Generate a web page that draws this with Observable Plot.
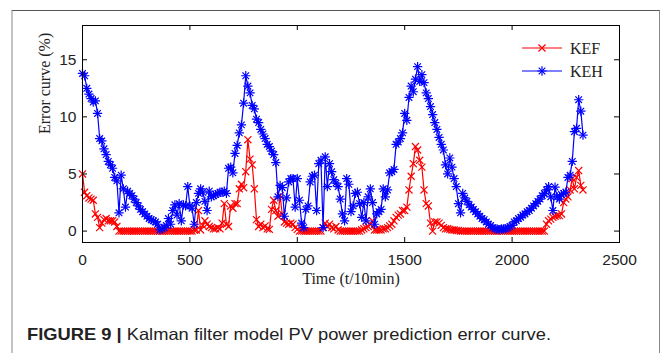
<!DOCTYPE html>
<html><head><meta charset="utf-8">
<script src="https://cdn.jsdelivr.net/npm/d3@7"></script>
<script src="https://cdn.jsdelivr.net/npm/@observablehq/plot@0.6"></script>
<style>
html,body{margin:0;padding:0;background:#fff}
body{width:664px;height:353px;overflow:hidden;position:relative;font-family:"Liberation Sans",Arial,sans-serif}
#frame{position:absolute;left:11px;top:10px;width:649px;height:350px;border-top:1px solid #555;border-left:2px solid #c4c4c4;border-right:1px solid #888;box-sizing:border-box}
#chart{position:absolute;left:0;top:0}
#legend{position:absolute;left:0;top:0;pointer-events:none}
#caption{position:absolute;left:27px;top:324px;font-size:16.5px;line-height:20px;color:#222;white-space:nowrap;transform-origin:0 50%}
#caption b{font-weight:bold}
</style></head>
<body>
<div id="frame"></div>
<div id="chart"></div>
<svg id="legend" width="664" height="100"></svg>
<div id="caption"><b>FIGURE 9 |</b> Kalman filter model PV power prediction error curve.</div>
<script>
// sampling step of the time axis (t/10min)
const timeStep = 10;
const seriesNames = ["KEF", "KEH"];
const xTicks = [0, 500, 1000, 1500, 2000, 2500];
const yTicks = [0, 5, 10, 15];

const kef = [
  5.0, 3.4, 3.1, 2.9, 2.8, 2.7, 1.5, 1.2, 0.3, 0.7,
  1.0, 1.1, 0.9, 0.9, 0.9, 0.8, 0.4, 0.0, 0.0, 0.0,
  0, 0, 0, 0, 0, 0, 0, 0, 0, 0,
  0, 0, 0, 0, 0, 0, 0, 0, 0, 0,
  0, 0, 0, 0, 0, 0, 0, 0, 0, 0,
  0.0, 0.0, 0.1, 0.1, 1.8, 0.1, 0.5, 0.9, 0.6, 0.4,
  0.3, 0.2, 0.2, 0.3, 0.2, 0.7, 2.4, 0.6, 0.4, 2.2,
  2.0, 2.4, 2.4, 3.7, 4.1, 3.8, 5.2, 8.0, 6.3, 5.8,
  3.7, 1.0, 0.4, 0.6, 0.3, 0.45, 0.2, 0.15, 1.9, 2.7,
  1.8, 1.3, 3.1, 1.5, 0.8, 0.7, 0.6, 0.7, 0.6, 0.3,
  0.15, 0, 0, 0, 0, 0, 0, 0, 0, 0,
  0.0, 0.0, 0.3, 0.7, 0.4, 0.6, 0.3, 0.2, 0.4, 0.1,
  0, 0, 0, 0, 0, 0, 0, 0, 0, 0,
  0.1, 0.2, 0.3, 0.4, 0.6, 0.9, 0.1, 0.1, 0.1, 0.1,
  0.2, 0.2, 0.3, 0.45, 0.6, 0.9, 1.2, 1.4, 1.5, 1.8,
  1.8, 2.1, 3.6, 4.8, 5.9, 7.4, 7.1, 6.2, 5.6, 3.6,
  2.4, 2.2, 0.7, 0.0, 0.8, 0.8, 0.7, 0.5, 0.3, 0.2,
  0.2, 0.15, 0.1, 0.1, 0.05, 0.05, 0, 0, 0, 0,
  0, 0, 0, 0, 0, 0, 0, 0, 0, 0,
  0, 0, 0, 0, 0, 0, 0, 0, 0, 0,
  0, 0, 0, 0, 0, 0, 0, 0, 0, 0,
  0, 0, 0, 0, 0, 0, 0.6, 0.9, 1.05, 1.2,
  1.3, 1.35, 1.35, 1.5, 2.5, 2.8, 3.0, 3.6, 4.6, 3.7,
  4.7, 5.3, 4.0, 3.6
];

const keh = [
  13.8, 13.6, 12.5, 12.0, 11.6, 11.3, 11.4, 10.3, 8.1, 7.9,
  7.2, 6.7, 6.1, 5.8, 5.5, 4.7, 4.4, 1.6, 4.9, 3.7,
  2.1, 3.5, 3.3, 3.1, 2.8, 2.5, 2.2, 1.9, 1.7, 1.5,
  1.3, 1.1, 1.0, 0.9, 0.8, 0.6, 0.1, 0.2, 0.3, 0.5,
  1.1, 0.6, 1.8, 2.3, 1.4, 2.4, 0.9, 2.3, 2.2, 3.9,
  2.2, 2.0, 0.6, 2.5, 3.3, 3.7, 3.4, 2.6, 1.8, 3.5,
  3.0, 3.1, 3.2, 3.3, 3.4, 3.4, 3.5, 3.3, 5.5, 5.6,
  5.1, 6.8, 7.5, 8.6, 9.3, 11.2, 13.6, 12.7, 12.1, 11.0,
  10.7, 9.8, 9.5, 8.9, 8.5, 8.1, 7.6, 7.4, 7.0, 6.7,
  6.0, 3.0, 4.0, 3.8, 1.3, 2.9, 4.3, 4.6, 4.6, 2.1,
  4.6, 2.7, 0.7, 0.3, 1.9, 2.2, 4.3, 4.8, 4.9, 1.8,
  5.9, 6.2, 0.3, 6.5, 3.9, 5.9, 5.2, 4.5, 4.2, 3.9,
  2.8, 1.5, 0.9, 4.6, 4.1, 1.7, 2.2, 3.3, 3.4, 2.4,
  1.2, 2.5, 0.9, 3.0, 3.7, 2.5, 0.6, 1.5, 1.7, 1.9,
  3.7, 3.0, 3.6, 5.1, 5.2, 5.4, 7.6, 7.8, 8.1, 8.6,
  10.3, 9.7, 11.7, 12.7, 12.2, 13.3, 14.4, 13.1, 13.7, 13.0,
  12.1, 11.6, 10.9, 10.2, 9.5, 8.9, 8.2, 7.6, 7.1, 5.8,
  5.0, 6.4, 5.6, 4.6, 3.9, 2.4, 1.6, 3.3, 2.9, 2.6,
  2.3, 2.1, 1.9, 1.7, 1.5, 1.3, 1.1, 1.0, 0.8, 0.6,
  0.5, 0.3, 0.2, 0.2, 0.1, 0.2, 0.2, 0.2, 0.3, 0.4,
  0.5, 0.8, 0.9, 1.1, 1.2, 1.4, 1.5, 1.7, 1.8, 2.0,
  2.2, 2.4, 2.6, 2.8, 3.1, 3.3, 3.6, 3.9, 3.0, 1.8,
  3.85, 3.0, 2.8, 3.2, 3.3, 3.4, 4.7, 4.9, 6.1, 8.7,
  9.0, 11.5, 10.5, 8.4
];

const colors = {KEF: "#ff0000", KEH: "#0000ff"};
const kefData = kef.map((v, i) => ({t: i * timeStep, v}));
const kehData = keh.map((v, i) => ({t: i * timeStep, v}));

const W = 664, H = 300, mL = 82, mR = 45, mT = 25, mB = 58;
const plotW = W - mL - mR, plotH = H - mT - mB;
const tick = 5;
const sw = 1.2;
const rKEF = 3.3, rKEH = 3.1;
const serif = "'Liberation Serif','Times New Roman',serif";
const sans = "'Liberation Sans',Arial,sans-serif";

const chart = Plot.plot({
  width: W, height: H,
  marginLeft: mL, marginRight: mR, marginTop: mT, marginBottom: mB,
  x: {domain: [0, 2500], ticks: xTicks, tickFormat: d3.format("d")},
  y: {domain: [-1, 18], ticks: yTicks, tickFormat: d3.format("d")},
  style: {background: "transparent", overflow: "visible"},
  marks: [
    Plot.line(kefData, {x: "t", y: "v", stroke: colors.KEF, strokeWidth: sw}),
    Plot.dot(kefData, {x: "t", y: "v", symbol: "times", r: rKEF, stroke: colors.KEF, strokeWidth: sw}),
    Plot.line(kehData, {x: "t", y: "v", stroke: colors.KEH, strokeWidth: sw}),
    Plot.dot(kehData, {x: "t", y: "v", symbol: "plus", r: rKEH, stroke: colors.KEH, strokeWidth: sw}),
    Plot.dot(kehData, {x: "t", y: "v", symbol: "times", r: rKEH, stroke: colors.KEH, strokeWidth: sw}),
    // inward ticks on all four sides
    Plot.ruleX(xTicks, {x: d => d, insetTop: plotH - tick, stroke: "#000"}),
    Plot.ruleX(xTicks, {x: d => d, insetBottom: plotH - tick, stroke: "#000"}),
    Plot.ruleY(yTicks, {y: d => d, insetRight: plotW - tick, stroke: "#000"}),
    Plot.ruleY(yTicks, {y: d => d, insetLeft: plotW - tick, stroke: "#000"}),
    Plot.frame({stroke: "#000", strokeWidth: 1}),
    Plot.axisX(xTicks, {tickSize: 0, tickPadding: 11, fontSize: 15.5, fontFamily: sans, fill: "#222", label: null, tickFormat: d3.format("d")}),
    Plot.axisY(yTicks, {tickSize: 0, tickPadding: 6, fontSize: 15.5, fontFamily: sans, fill: "#222", label: null, tickFormat: d3.format("d")}),
    Plot.text(["Time (t/10min)"], {frameAnchor: "bottom", dy: 41, fontFamily: serif, fontSize: 16, fill: "#222"}),
    Plot.text(["Error curve (%)"], {frameAnchor: "left", dx: -38, rotate: -90, fontFamily: serif, fontSize: 16, fill: "#222"})
  ]
});
document.getElementById("chart").appendChild(chart);

// legend (MATLAB style, no box)
const leg = d3.select("#legend");
const legRows = [{name: "KEF", y: 48}, {name: "KEH", y: 71}];
legRows.forEach(r => {
  const g = leg.append("g");
  g.append("line").attr("x1", 522).attr("x2", 562).attr("y1", r.y).attr("y2", r.y)
    .attr("stroke", colors[r.name]).attr("stroke-width", sw);
  const syms = r.name === "KEF" ? [[d3.symbolTimes, rKEF]] : [[d3.symbolPlus, rKEH], [d3.symbolTimes, rKEH]];
  syms.forEach(([s, rr]) => {
    g.append("path").attr("d", d3.symbol(s, Math.PI * rr * rr)())
      .attr("transform", `translate(542,${r.y})`).attr("fill", "none")
      .attr("stroke", colors[r.name]).attr("stroke-width", sw);
  });
  g.append("text").attr("x", 570).attr("y", r.y).attr("dy", "0.35em")
    .attr("font-family", serif).attr("font-size", 16).attr("fill", "#222").text(r.name);
});

// stretch caption to the reference's width
const cap = document.getElementById("caption");
const cw = cap.getBoundingClientRect().width;
cap.style.transform = `scaleX(${524 / cw})`;
</script>
</body></html>
